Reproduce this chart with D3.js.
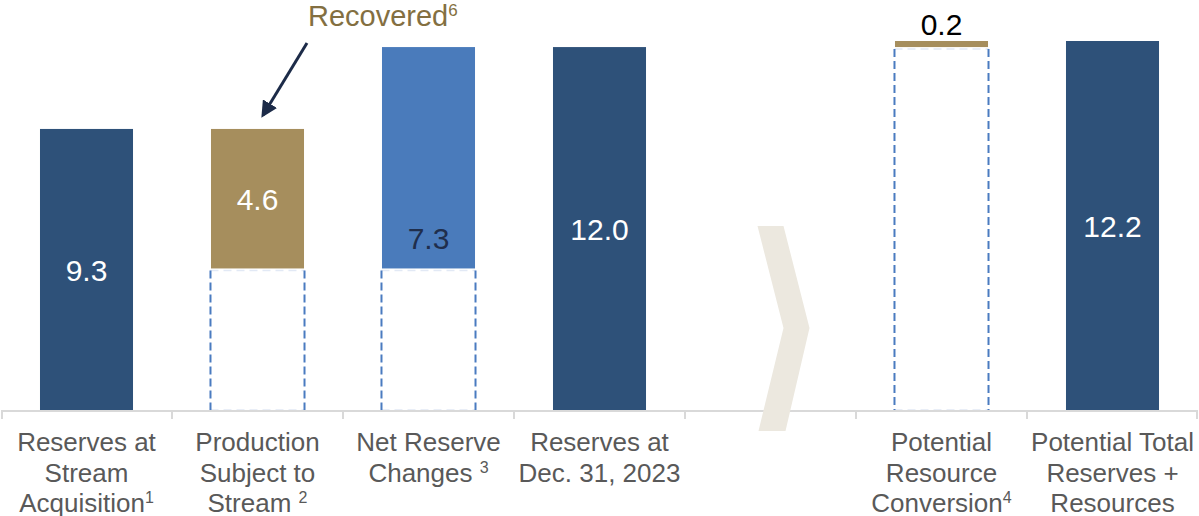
<!DOCTYPE html>
<html>
<head>
<meta charset="utf-8">
<script src="https://cdn.jsdelivr.net/npm/d3@7"></script>
<style>
  html, body { margin: 0; padding: 0; background: #ffffff; }
  svg { display: block; font-family: Arial, "Liberation Sans", sans-serif; }
</style>
</head>
<body>
<svg id="chart" width="1199" height="516"></svg>
<script>
// Waterfall steps (Moz, gold equivalent)
const categories = ["acq", "prod", "net", "dec", "gap", "conv", "total"];
const values = [9.3, 4.6, 7.3, 12.0, null, 0.2, 12.2];
const stepTypes = ["total", "decrease", "increase", "total", "gap", "increase", "total"];
const valueLabels = ["9.3", "4.6", "7.3", "12.0", "", "0.2", "12.2"];
// Category label lines: [text, superscript]
const tickLabels = [
  [["Reserves at", ""], ["Stream", ""], ["Acquisition", "1"]],
  [["Production", ""], ["Subject to", ""], ["Stream ", "2"]],
  [["Net Reserve", ""], ["Changes ", "3"]],
  [["Reserves at", ""], ["Dec. 31, 2023", ""]],
  [],
  [["Potential", ""], ["Resource", ""], ["Conversion", "4"]],
  [["Potential Total", ""], ["Reserves +", ""], ["Resources", ""]]
];
const calloutText = ["Recovered", "6"];

const colors = {
  total: "#2E5179",
  decrease: "#A68E5D",
  increase: "#4A7BBB",
  conv: "#A68E5D",
  dashSide: "#4A7BC0",
  dashEdge: "#E2E9F5",
  axis: "#D9D9D9",
  tickText: "#595959",
  chevron: "#ECE8DF",
  callout: "#836F41",
  arrow: "#1C2B48"
};

const svg = d3.select("#chart");

const x = d3.scaleBand()
  .domain(categories)
  .range([1, 1198])
  .paddingInner(0.456)
  .paddingOuter(0.228);

const y = d3.scaleLinear().domain([0, 12.2]).range([411, 41]);

// Compute waterfall extents
let running = 0;
const steps = categories.map((c, i) => {
  const t = stepTypes[i], v = values[i];
  let lo = 0, hi = 0;
  if (t === "total") { lo = 0; hi = v; running = v; }
  else if (t === "decrease") { hi = running; lo = running - v; running = lo; }
  else if (t === "increase") { lo = running; hi = running + v; running = hi; }
  return { key: c, type: t, value: v, lo, hi, label: valueLabels[i], i };
});

// Chevron separator in the empty slot
const gx = x("gap") + x.bandwidth() / 2;
const chev = [[-13, 226], [13, 226], [39, 328], [15, 431], [-12, 431], [13, 328]];

// Dashed outlines under floating bars (from zero up to the bar base)
const floating = steps.filter(s => s.type === "decrease" || s.type === "increase");
const boxes = svg.append("g");
floating.forEach(s => {
  const x0 = x(s.key) - 0.5, x1 = x(s.key) + x.bandwidth() + 0.5;
  const yTop = y(s.lo) + 2, yBot = y(0) - 1;
  boxes.append("line").attr("x1", x0).attr("x2", x1).attr("y1", yTop).attr("y2", yTop)
    .attr("stroke", colors.dashEdge).attr("stroke-width", 1.5).attr("stroke-dasharray", "8,5");
  boxes.append("line").attr("x1", x0).attr("x2", x1).attr("y1", yBot).attr("y2", yBot)
    .attr("stroke", colors.dashEdge).attr("stroke-width", 1.5).attr("stroke-dasharray", "8,5");
  [x0, x1].forEach(xx => {
    boxes.append("line").attr("x1", xx).attr("x2", xx).attr("y1", yTop).attr("y2", yBot)
      .attr("stroke", colors.dashSide).attr("stroke-width", 2).attr("stroke-dasharray", "8,4");
  });
});

// Bars
const fillFor = s => s.key === "conv" ? colors.conv : colors[s.type];
svg.append("g").selectAll("rect")
  .data(steps.filter(s => s.type !== "gap"))
  .join("rect")
  .attr("x", d => x(d.key))
  .attr("width", x.bandwidth())
  .attr("y", d => y(d.hi))
  .attr("height", d => y(d.lo) - y(d.hi))
  .attr("fill", fillFor);

// Axis line and tick marks at category boundaries
svg.append("line")
  .attr("x1", 1).attr("x2", 1198).attr("y1", 411).attr("y2", 411)
  .attr("stroke", colors.axis).attr("stroke-width", 2);
const bounds = d3.range(categories.length + 1).map(i => 1 + i * x.step());
svg.append("g").selectAll("line")
  .data(bounds)
  .join("line")
  .attr("x1", d => Math.min(Math.max(d, 2), 1197)).attr("x2", d => Math.min(Math.max(d, 2), 1197))
  .attr("y1", 411).attr("y2", 419)
  .attr("stroke", colors.axis).attr("stroke-width", 2);

// Chevron drawn above the axis line
svg.append("polygon")
  .attr("points", chev.map(p => [gx + p[0], p[1]].join(",")).join(" "))
  .attr("fill", colors.chevron);

// Value labels
const labelG = svg.append("g").attr("font-size", 30).attr("text-anchor", "middle");
steps.filter(s => s.type !== "gap").forEach(s => {
  const cx = x(s.key) + x.bandwidth() / 2;
  let cy, fill;
  if (s.key === "conv") { cy = y(s.hi) - 17; fill = "#000000"; }
  else if (s.type === "increase") { cy = y(s.lo) - 30; fill = "#1F2E4C"; }
  else { cy = (y(s.lo) + y(s.hi)) / 2; fill = "#FFFFFF"; }
  labelG.append("text")
    .attr("x", cx).attr("y", cy)
    .attr("dy", "0.36em")
    .attr("fill", fill)
    .text(s.label);
});

// Category labels
const tickG = svg.append("g").attr("font-size", 26).attr("fill", colors.tickText).attr("text-anchor", "middle");
const lineY = [451, 482, 512];
tickLabels.forEach((lines, i) => {
  const cx = x(categories[i]) + x.bandwidth() / 2;
  lines.forEach((ln, j) => {
    const t = tickG.append("text").attr("x", cx).attr("y", lineY[j]);
    t.append("tspan").text(ln[0]);
    if (ln[1]) {
      t.append("tspan").attr("font-size", 16).attr("dy", -9).text(ln[1]);
    }
  });
});

// Callout with arrow pointing at the recovered production
const defs = svg.append("defs");
defs.append("marker")
  .attr("id", "arrowhead")
  .attr("viewBox", "0 0 10 10")
  .attr("refX", 8).attr("refY", 5)
  .attr("markerWidth", 5.5).attr("markerHeight", 5.5)
  .attr("orient", "auto")
  .append("path").attr("d", "M0,0 L10,5 L0,10 Z").attr("fill", colors.arrow);

const tip = [x("prod") + x.bandwidth() * 0.56, y(values[0]) - 14];
svg.append("line")
  .attr("x1", 307).attr("y1", 43)
  .attr("x2", tip[0]).attr("y2", tip[1])
  .attr("stroke", colors.arrow).attr("stroke-width", 3)
  .attr("marker-end", "url(#arrowhead)");

const call = svg.append("text")
  .attr("x", 308).attr("y", 26)
  .attr("font-size", 29).attr("fill", colors.callout);
call.append("tspan").text(calloutText[0]);
call.append("tspan").attr("font-size", 17).attr("dy", -10).text(calloutText[1]);
</script>
</body>
</html>
